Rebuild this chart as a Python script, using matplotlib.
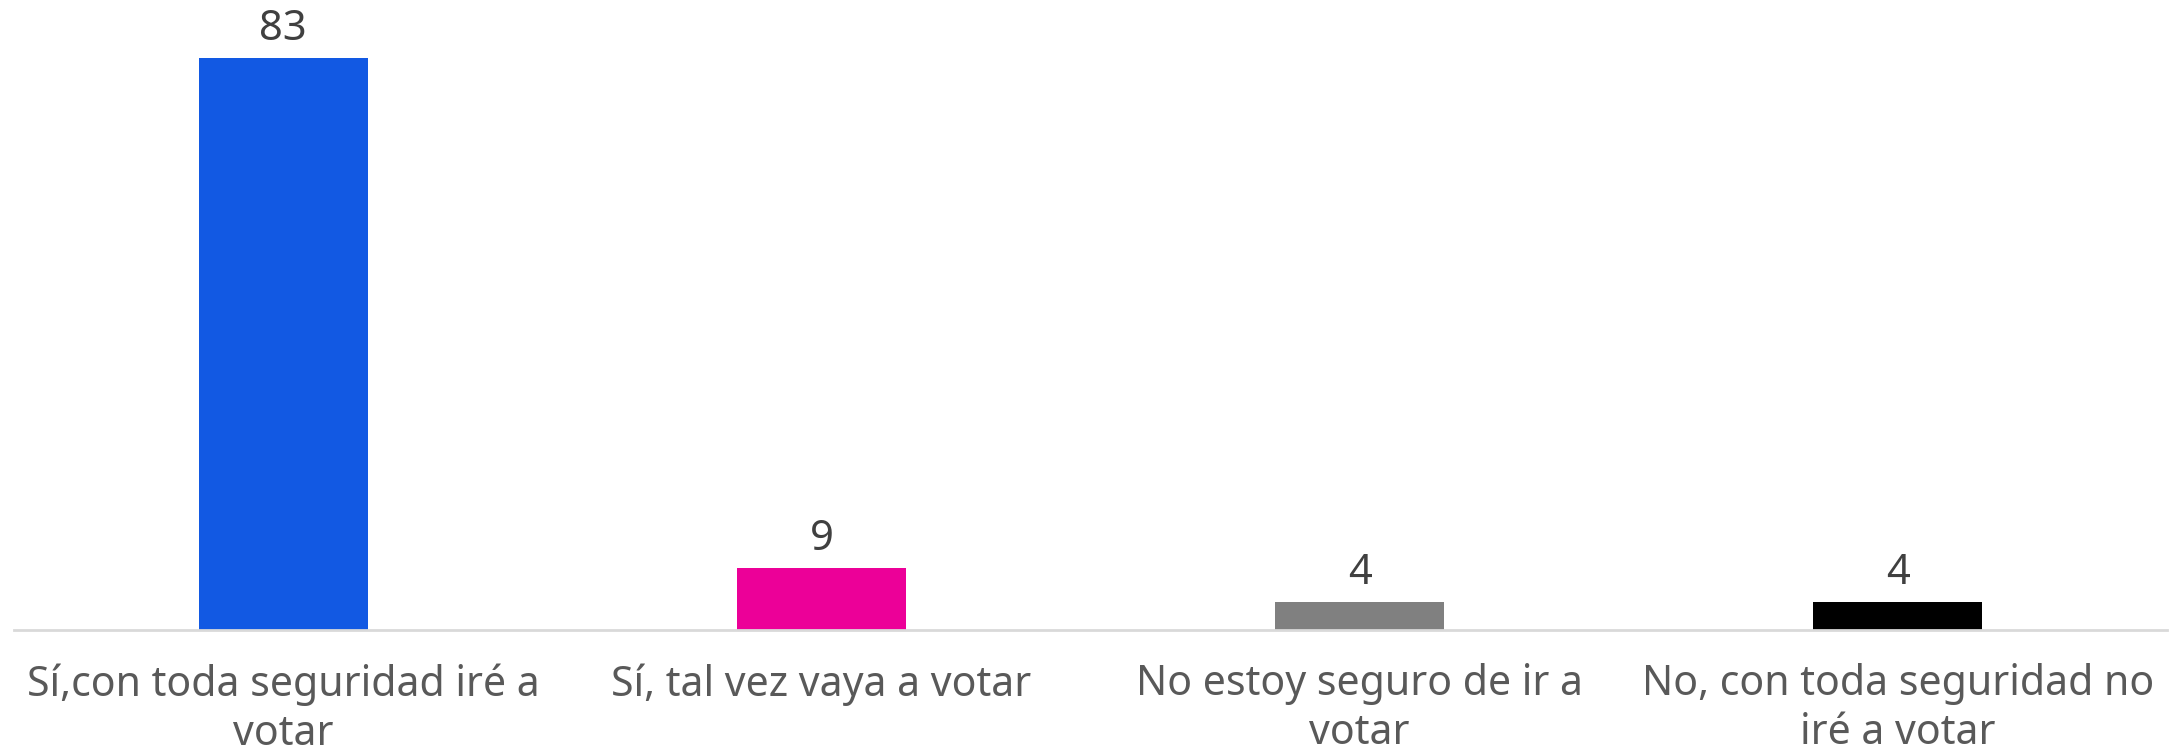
import matplotlib
matplotlib.use('Agg')
import matplotlib.pyplot as plt

# Data
categories = [
    'Sí,con toda seguridad iré a\nvotar',
    'Sí, tal vez vaya a votar',
    'No estoy seguro de ir a\nvotar',
    'No, con toda seguridad no\niré a votar',
]
values = [83, 9, 4, 4]
colors = ['#1259E3', '#EC0098', '#808080', '#000000']

plt.rcParams['font.family'] = ['Noto Sans', 'DejaVu Sans']

fig = plt.figure(figsize=(21.82, 7.54), dpi=100)
ax = fig.add_axes([14 / 2182, 1 - 630 / 754, 2153 / 2182, 630 / 754])

x = range(len(values))
bars = ax.bar(x, values, width=0.314, color=colors)

for rect, v in zip(bars, values):
    ax.annotate(str(v), (rect.get_x() + rect.get_width() / 2, rect.get_height()),
                xytext=(0, 6), textcoords='offset points',
                ha='center', va='bottom', fontsize=30, color='#404040')

ax.set_xlim(-0.5, len(values) - 0.5)
ax.set_ylim(0, 91.4)
ax.set_xticks(list(x))
ax.set_xticklabels(categories, fontsize=29.5, color='#595959', linespacing=1.22)
ax.tick_params(axis='x', length=0, pad=24)
ax.set_yticks([])

for side in ['top', 'right', 'left']:
    ax.spines[side].set_visible(False)
ax.spines['bottom'].set_color('#D9D9D9')
ax.spines['bottom'].set_linewidth(2)

fig.savefig('out.png', dpi=100)
plt.close(fig)
